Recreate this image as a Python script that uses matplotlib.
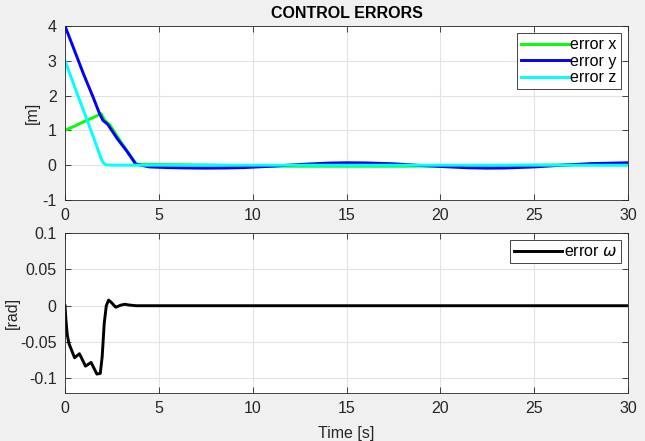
import matplotlib
matplotlib.use("Agg")
import matplotlib.pyplot as plt
import numpy as np

plt.rcParams['font.family'] = ['Liberation Sans', 'DejaVu Sans']
plt.rcParams['axes.unicode_minus'] = False

# ---- data ----
t_x = [0, 0.5, 1.0, 1.5, 1.93, 2.1, 2.4, 3.0, 3.8, 5, 8, 10, 12, 15, 18, 20, 22.5, 25, 27, 30]
err_x = [1.0, 1.12, 1.25, 1.37, 1.48, 1.3, 1.15, 0.65, 0.03, 0.02, 0.0, -0.02, -0.03, -0.03, -0.03, -0.02, -0.01, 0.0, 0.01, 0.01]

t_y = [0, 0.5, 1.0, 1.5, 1.84, 2.02, 2.28, 2.8, 3.3, 3.77, 4.5, 5.5, 6.5, 7.5, 8.5, 9.5, 11, 12.5, 14, 15, 16, 17.5, 19, 20.5, 21.5, 22.5, 23.5, 25, 26.5, 28, 30]
err_y = [4.0, 3.3, 2.6, 1.95, 1.48, 1.29, 1.17, 0.75, 0.4, 0.03, -0.05, -0.07, -0.08, -0.085, -0.08, -0.07, -0.03, 0.02, 0.06, 0.07, 0.065, 0.04, -0.01, -0.05, -0.075, -0.085, -0.08, -0.05, 0.0, 0.045, 0.07]

t_z = [0, 0.5, 1.0, 1.5, 1.9, 2.05, 2.2, 2.5, 3, 5, 10, 15, 20, 25, 30]
err_z = [3.0, 2.27, 1.55, 0.83, 0.22, 0.06, 0.01, 0.0, 0.0, 0.0, 0.0, 0.0, 0.0, 0.0, 0.0]

t_w = [0, 0.05, 0.12, 0.21, 0.51, 0.77, 1.09, 1.39, 1.7, 1.88, 1.98, 2.09, 2.2, 2.32, 2.45, 2.7, 3.0, 3.19, 3.4, 3.8, 5, 10, 15, 20, 25, 30]
err_w = [0.0, -0.02, -0.04, -0.052, -0.0715, -0.066, -0.083, -0.078, -0.094, -0.093, -0.07, -0.024, 0.0, 0.0077, 0.005, -0.002, 0.001, 0.002, 0.001, 0.0, 0.0, 0.0, 0.0, 0.0, 0.0, 0.0]

x_ticks = [0, 5, 10, 15, 20, 25, 30]

# =====================================================================
def style_axes(ax):
    ax.set_facecolor('white')
    ax.grid(True, color='#e3e3e3', linewidth=0.8)
    ax.set_axisbelow(True)
    for s in ax.spines.values():
        s.set_color('#262626')
        s.set_linewidth(0.6)
    ax.tick_params(direction='in', length=4, width=0.6, colors='#262626',
                   labelsize=11.5, top=True, right=True, pad=6)
    ax.set_xlim(0, 30)
    ax.set_xticks(x_ticks)


def add_legend(ax):
    leg = ax.legend(loc='upper right', fontsize=11.5, handlelength=3.0, handletextpad=0.1,
                    labelspacing=0.1, borderpad=0.25, fancybox=False,
                    framealpha=1, edgecolor='#262626', borderaxespad=0.45)
    leg.get_frame().set_linewidth(0.6)
    return leg


fig = plt.figure(figsize=(6.45, 4.41), dpi=100, facecolor='#f0f0f0')

ax1 = fig.add_axes([0.1008, 0.5465, 0.8729, 0.3946])
ax1.plot(t_x, err_x, color='#00ff00', lw=2.1, label='error x')
ax1.plot(t_y, err_y, color='#0000ff', lw=2.1, label='error y')
ax1.plot(t_z, err_z, color='#00ffff', lw=2.1, label='error z')
style_axes(ax1)
ax1.set_ylim(-1, 4)
ax1.set_yticks([-1, 0, 1, 2, 3, 4])
ax1.set_ylabel('[m]', fontsize=11.5, color='#262626', labelpad=2)
ax1.set_title('CONTROL ERRORS', fontsize=11.5, fontweight='bold', pad=6)
add_legend(ax1)

ax2 = fig.add_axes([0.1008, 0.1088, 0.8729, 0.3629])
ax2.plot(t_w, err_w, color='black', lw=2.1, label=r'error $\it{\omega}$')
style_axes(ax2)
ax2.set_ylim(-0.12, 0.1)
ax2.set_yticks([-0.1, -0.05, 0, 0.05, 0.1])
ax2.set_yticklabels(['-0.1', '-0.05', '0', '0.05', '0.1'])
ax2.set_ylabel('[rad]', fontsize=11.5, color='#262626', labelpad=0)
ax2.set_xlabel('Time [s]', fontsize=11.5, color='#262626', labelpad=7)
add_legend(ax2)

fig.savefig('out.png', dpi=100, facecolor=fig.get_facecolor())
